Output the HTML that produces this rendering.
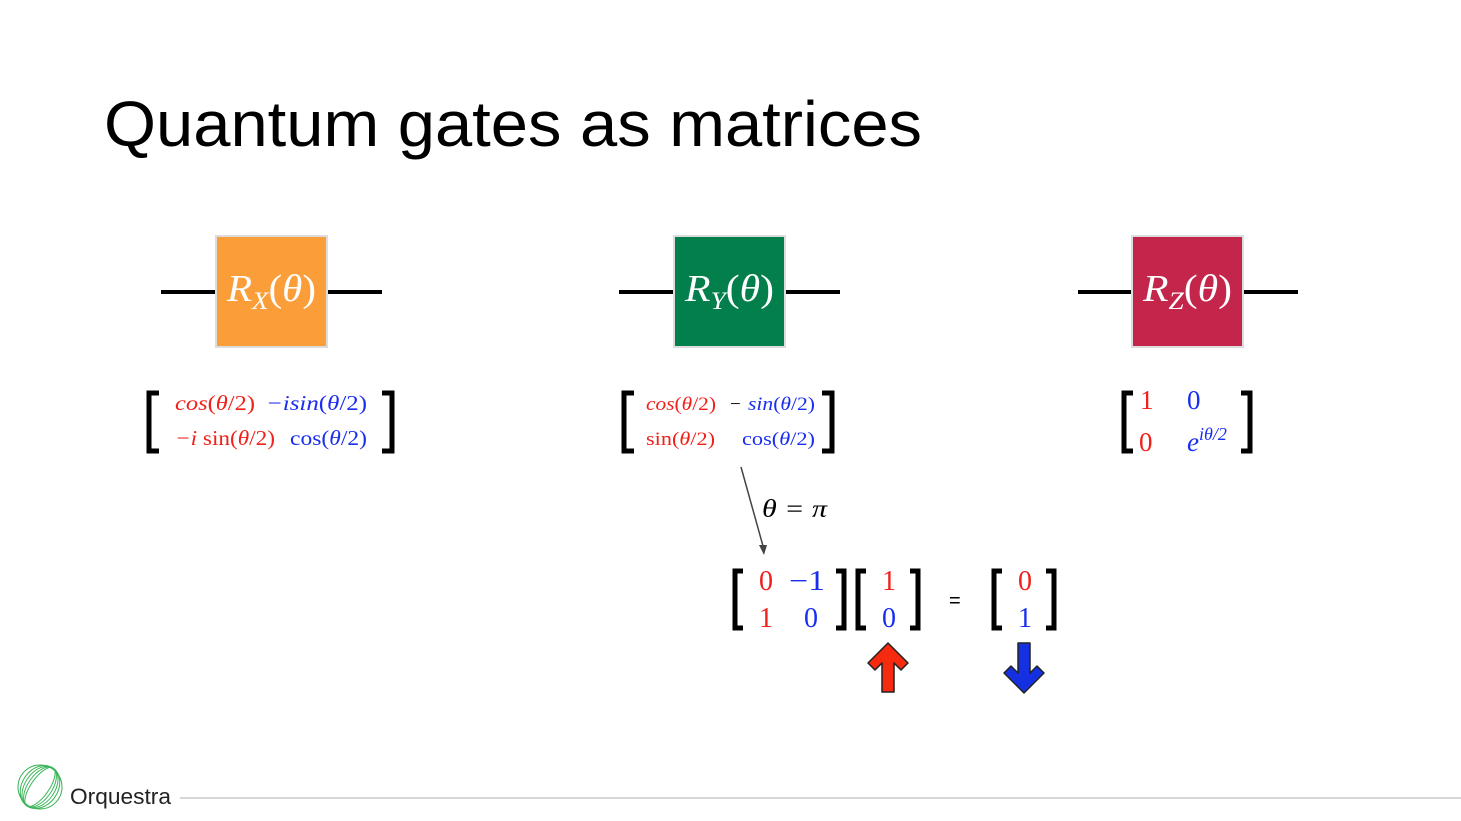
<!DOCTYPE html>
<html><head><meta charset="utf-8"><style>
html,body{margin:0;padding:0;background:#fff;}
svg{display:block}
text{font-family:"Liberation Serif",serif;}
</style></head><body>
<svg width="1461" height="821" viewBox="0 0 1461 821" xmlns="http://www.w3.org/2000/svg">
<rect width="1461" height="821" fill="#fff"/>
<text x="104" y="146" font-size="64" fill="#000" textLength="818" lengthAdjust="spacingAndGlyphs" style="font-family:'Liberation Sans',sans-serif">Quantum gates as matrices</text>

<g stroke="#000" stroke-width="4">
<line x1="161" y1="292" x2="216" y2="292"/><line x1="327" y1="292" x2="382" y2="292"/>
<line x1="619" y1="292" x2="674" y2="292"/><line x1="785" y1="292" x2="840" y2="292"/>
<line x1="1078" y1="292" x2="1132" y2="292"/><line x1="1243" y1="292" x2="1298" y2="292"/>
</g>
<g stroke="#ddd" stroke-width="2">
<rect x="216" y="236" width="111" height="111" fill="#fb9e3a"/>
<rect x="674" y="236" width="111" height="111" fill="#037f4c"/>
<rect x="1132" y="236" width="111" height="111" fill="#c4254b"/>
</g>
<g fill="#fff" font-size="38" font-style="italic">
<text x="227" y="301" textLength="89" lengthAdjust="spacingAndGlyphs">R<tspan font-size="25" dy="8">X</tspan><tspan dy="-8" font-style="normal">(</tspan>θ<tspan font-style="normal">)</tspan></text>
<text x="685" y="301" textLength="89" lengthAdjust="spacingAndGlyphs">R<tspan font-size="25" dy="8">Y</tspan><tspan dy="-8" font-style="normal">(</tspan>θ<tspan font-style="normal">)</tspan></text>
<text x="1143" y="301" textLength="89" lengthAdjust="spacingAndGlyphs">R<tspan font-size="25" dy="8">Z</tspan><tspan dy="-8" font-style="normal">(</tspan>θ<tspan font-style="normal">)</tspan></text>
</g>

<g fill="none" stroke="#000" stroke-width="5">
<path d="M159,393 H149 V451 H159"/><path d="M382,393 H392 V451 H382"/>
<path d="M634,393 H624 V451 H634"/><path d="M822,393 H832 V451 H822"/>
<path d="M1133,393 H1124 V451 H1133"/><path d="M1241,393 H1250 V451 H1241"/>
<path d="M743,571 H735 V628 H743"/><path d="M836,571 H844 V628 H836"/>
<path d="M866,571 H858 V628 H866"/><path d="M910,571 H918 V628 H910"/>
<path d="M1002,571 H994 V628 H1002"/><path d="M1046,571 H1054 V628 H1046"/>
</g>

<g font-size="21">
<text x="175" y="410" fill="#f0201a" font-style="italic" textLength="80" lengthAdjust="spacingAndGlyphs">cos<tspan font-style="normal">(</tspan>θ<tspan font-style="normal">/2)</tspan></text>
<text x="266" y="410" fill="#1a2ef0" font-style="italic" textLength="101" lengthAdjust="spacingAndGlyphs">−isin<tspan font-style="normal">(</tspan>θ<tspan font-style="normal">/2)</tspan></text>
<text x="175" y="445" fill="#f0201a" textLength="100" lengthAdjust="spacingAndGlyphs"><tspan font-style="italic">−i</tspan> sin(<tspan font-style="italic">θ</tspan>/2)</text>
<text x="290" y="445" fill="#1a2ef0" textLength="77" lengthAdjust="spacingAndGlyphs">cos(<tspan font-style="italic">θ</tspan>/2)</text>
</g>
<g font-size="19">
<text x="646" y="410" fill="#f0201a" font-style="italic" textLength="70" lengthAdjust="spacingAndGlyphs">cos<tspan font-style="normal">(</tspan>θ<tspan font-style="normal">/2)</tspan></text>
<text x="730" y="410" fill="#000">−</text>
<text x="748" y="410" fill="#1a2ef0" font-style="italic" textLength="67" lengthAdjust="spacingAndGlyphs">sin<tspan font-style="normal">(</tspan>θ<tspan font-style="normal">/2)</tspan></text>
<text x="646" y="445" fill="#f0201a" textLength="69" lengthAdjust="spacingAndGlyphs">sin(<tspan font-style="italic">θ</tspan>/2)</text>
<text x="742" y="445" fill="#1a2ef0" textLength="73" lengthAdjust="spacingAndGlyphs">cos(<tspan font-style="italic">θ</tspan>/2)</text>
</g>
<g font-size="27">
<text x="1140" y="409" fill="#f0201a">1</text>
<text x="1187" y="409" fill="#1a2ef0">0</text>
<text x="1139" y="451" fill="#f0201a">0</text>
<text x="1187" y="451" fill="#1a2ef0" font-style="italic">e<tspan font-size="18" dy="-11">iθ/2</tspan></text>
</g>

<line x1="741" y1="467" x2="763" y2="546" stroke="#444" stroke-width="1.5"/>
<polygon points="759,545 767,545 764,555" fill="#444"/>
<text x="762" y="517" font-size="25" font-style="italic" fill="#000" textLength="65" lengthAdjust="spacingAndGlyphs">θ = π</text>

<g font-size="28">
<text x="759" y="590" fill="#f0201a">0</text>
<text x="789" y="590" fill="#1a2ef0" textLength="36" lengthAdjust="spacingAndGlyphs">−1</text>
<text x="759" y="627" fill="#f0201a">1</text>
<text x="804" y="627" fill="#1a2ef0">0</text>
<text x="882" y="590" fill="#f0201a">1</text>
<text x="882" y="627" fill="#1a2ef0">0</text>
<text x="1018" y="590" fill="#f0201a">0</text>
<text x="1018" y="627" fill="#1a2ef0">1</text>
</g>
<text x="949" y="607" font-size="20" fill="#000" style="font-family:'Liberation Sans',sans-serif">=</text>

<path d="M888,643 L908,663 L901,670 L894,663 L894,692 L882,692 L882,663 L875,670 L868,663 Z" fill="#f52a0e" stroke="#222" stroke-width="1.5" stroke-linejoin="round"/>
<path d="M1024,693 L1044,673 L1037,666 L1030,673 L1030,643 L1018,643 L1018,673 L1011,666 L1004,673 Z" fill="#1530e0" stroke="#222" stroke-width="1.5" stroke-linejoin="round"/>

<g fill="none" stroke="#3cb55a" stroke-width="1">
<circle cx="40" cy="787" r="22"/>
<ellipse cx="40" cy="787" rx="9" ry="23" transform="rotate(35 40 787)"/>
<ellipse cx="40" cy="787" rx="12" ry="23" transform="rotate(35 40 787)"/>
<ellipse cx="40" cy="787" rx="15" ry="23" transform="rotate(35 40 787)"/>
<ellipse cx="40" cy="787" rx="18" ry="23" transform="rotate(35 40 787)"/>
</g>
<text x="70" y="804" font-size="22" fill="#222" textLength="101" lengthAdjust="spacingAndGlyphs" style="font-family:'Liberation Sans',sans-serif">Orquestra</text>
<line x1="180" y1="798" x2="1461" y2="798" stroke="#c8c8c8" stroke-width="1.5"/>
</svg>
</body></html>
